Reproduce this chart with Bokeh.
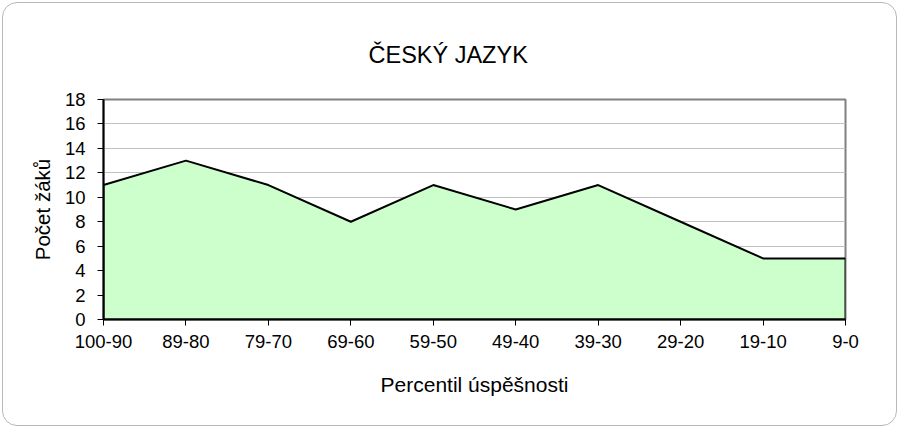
from bokeh.plotting import figure
from bokeh.models import FixedTicker, Range1d, Title
from bokeh.embed import file_html
from bokeh.resources import INLINE

# Data
categories = ["100-90", "89-80", "79-70", "69-60", "59-50", "49-40", "39-30", "29-20", "19-10", "9-0"]
counts = [11, 13, 11, 8, 11, 9, 11, 8, 5, 5]
y_ticks = [0, 2, 4, 6, 8, 10, 12, 14, 16, 18]
title_text = "ČESKÝ JAZYK"
x_label = "Percentil úspěšnosti"
y_label = "Počet žáků"

FONT = "Liberation Sans"
n = len(categories)
xs = list(range(n))

p = figure(width=895, height=424, output_backend="svg", toolbar_location=None,
           title=None,
           x_range=Range1d(0, n - 1), y_range=Range1d(y_ticks[0], y_ticks[-1]),
           min_border_left=100, min_border_right=53, min_border_top=96, min_border_bottom=108)

p.border_fill_color = None
p.background_fill_color = "white"
p.outline_line_color = "#808080"
p.outline_line_width = 2
p.styles = {"border": "1px solid #b8b8b8", "border-radius": "15px", "margin": "2px 0 0 2px"}

# area polygon built from data
px = [xs[0]] + xs + [xs[-1]]
py = [0] + counts + [0]
p.patch(px, py, fill_color="#CCFFCC", line_color="black", line_width=2)

# title
p.add_layout(Title(text=title_text, text_font_size="23.5px", text_font=FONT,
                   text_font_style="normal", align="left", offset=265,
                   standoff=64, text_color="black"), "above")

# axes
for ax in (p.xaxis[0], p.yaxis[0]):
    ax.axis_line_color = "black"
    ax.axis_line_width = 2
    ax.major_tick_line_color = "black"
    ax.major_tick_line_width = 1
    ax.major_tick_out = 6
    ax.major_tick_in = 0
    ax.minor_tick_line_color = None
    ax.major_label_text_font = FONT
    ax.major_label_text_font_size = "18.5px"
    ax.major_label_text_color = "black"
    ax.axis_label_text_font = FONT
    ax.axis_label_text_font_style = "normal"
    ax.axis_label_text_color = "black"

p.xaxis[0].ticker = FixedTicker(ticks=xs)
p.xaxis[0].major_label_overrides = {i: c for i, c in enumerate(categories)}
p.xaxis[0].major_label_standoff = 9
p.xaxis[0].axis_label = x_label
p.xaxis[0].axis_label_text_font_size = "21px"
p.xaxis[0].axis_label_standoff = 22

p.yaxis[0].ticker = FixedTicker(ticks=y_ticks)
p.yaxis[0].major_label_standoff = 12
p.yaxis[0].axis_label = y_label
p.yaxis[0].axis_label_text_font_size = "20.5px"
p.yaxis[0].axis_label_standoff = 8

p.xgrid.grid_line_color = None
p.ygrid.grid_line_color = "#C0C0C0"
p.ygrid.grid_line_width = 1

open("out.html", "w").write(file_html(p, INLINE))
